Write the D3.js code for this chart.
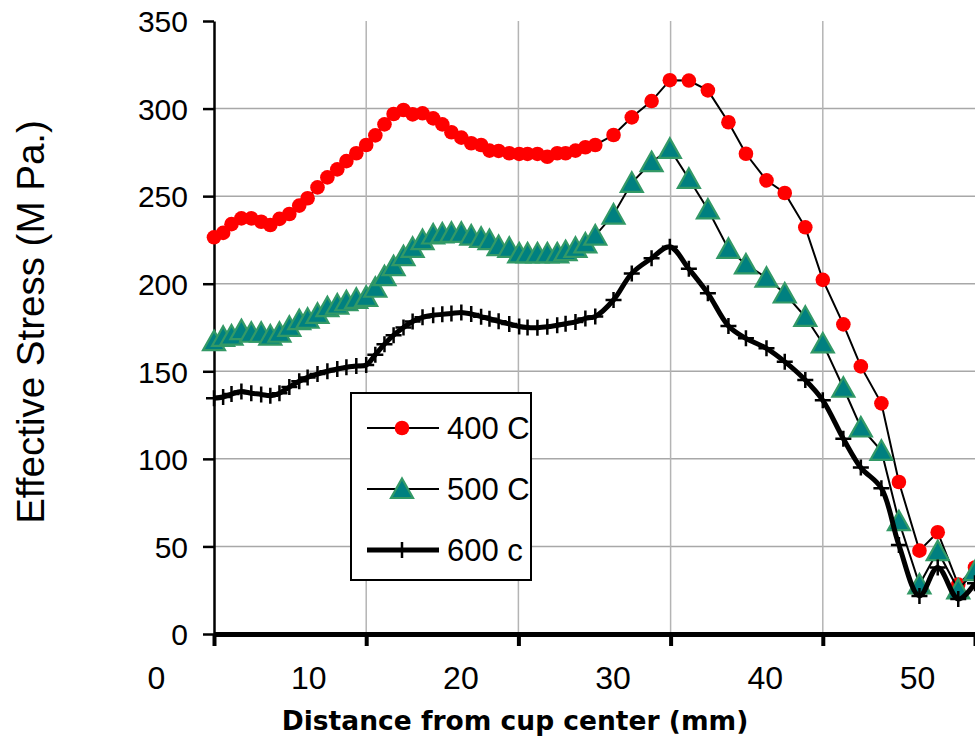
<!DOCTYPE html>
<html><head><meta charset="utf-8">
<script src="https://cdn.jsdelivr.net/npm/d3@7"></script>
<style>body{margin:0;background:#fff} svg{display:block}</style>
</head><body><svg id="c" width="975" height="742"></svg>
<script>
// ---- data ----
const distance = [0, 0.6, 1.15, 1.8, 2.45, 3.1, 3.7, 4.3, 4.95, 5.6, 6.15, 6.8, 7.45, 8.1, 8.7, 9.35, 10.0, 10.6, 11.2, 11.8, 12.45, 13.05, 13.7, 14.4, 15.0, 15.6, 16.25, 16.9, 17.55, 18.1, 18.7, 19.4, 20.05, 20.6, 21.25, 21.9, 22.55, 23.1, 23.75, 24.4, 25.05,
  26.25, 27.45, 28.75, 29.95, 31.2, 32.45, 33.8, 34.95, 36.3, 37.5, 38.85, 40.0, 41.35, 42.5, 43.85, 45.0, 46.35, 47.55, 48.9, 50.0];
const stress400 = [226.5, 229, 234, 237.3, 237.3, 235.4, 233.5, 237, 239.8, 244.6, 248.8, 255, 260.7, 265.3, 270, 274.5, 279.2, 284.7, 291, 296.9, 299.2, 296.7, 297.3, 294.4, 291, 286.5, 283.4, 280.2, 279.2, 276, 275.8, 274.5, 274.1, 274.1, 274.1, 272.5, 274.5, 274.5, 276, 277.9, 279.2,
  284.9, 295, 304.3, 316.2, 316, 310.4, 292.2, 274.2, 259, 251.8, 232.2, 202.2, 176.8, 152.8, 131.7, 86.8, 47.6, 58.1, 28.2, 38];
const stress500 = [167.2, 169.7, 170.4, 173.5, 172, 172, 170.4, 172, 175.4, 179.2, 180, 182.8, 186.6, 188.1, 190, 191.4, 192.5, 197.7, 204.3, 210, 215.7, 220.5, 224.9, 228.1, 228.7, 229.1, 229.1, 227.5, 226.2, 224.9, 221.5, 220.5, 217.3, 217.3, 217.3, 217.3, 217.3, 218.6, 220.5, 223, 227.5,
  239.5, 257.6, 269.4, 277, 259.9, 242.4, 219.9, 211, 203.4, 194.4, 181.1, 165.9, 140.6, 117.9, 104.6, 64.4, 28.3, 47.3, 25.4, 35.9];
const stress600 = [134.6, 135.3, 137, 138.4, 137.5, 136.8, 136, 137.5, 141, 144.3, 146.5, 148.4, 150, 151.3, 152.3, 153, 153.6, 159.5, 165.5, 170.6, 175, 178.4, 180.8, 182, 182.5, 183, 183.6, 182.7, 181.2, 180, 178.5, 177, 175.6, 175, 174.9, 175.4, 176.3, 177.1, 178.2, 180.2, 181.3,
  190.7, 205.9, 214.5, 221.1, 208.5, 194.5, 175.9, 168.8, 163.1, 155.5, 145, 133.4, 111.5, 95, 83.2, 50.8, 21.7, 38, 20, 29];
const seriesNames = ["400 C", "500 C", "600 c"];
const xTicks = [0, 10, 20, 30, 40, 50];
const yTicks = [0, 50, 100, 150, 200, 250, 300, 350];
const xTitle = "Distance from cup center (mm)";
const yTitle = "Effective Stress (M Pa.)";

// ---- chart ----
const svg = d3.select('#c');
const x = d3.scaleLinear().domain([0, 50]).range([214, 975]);
const y = d3.scaleLinear().domain([0, 350]).range([634, 21]);

// gridlines
svg.append('g').selectAll('line').data(yTicks.filter(d => d > 0 && d < 350)).join('line')
  .attr('x1', x(0)).attr('x2', x(50)).attr('y1', d => y(d)).attr('y2', d => y(d))
  .attr('stroke', '#a8a8a8').attr('stroke-width', 1.5);
svg.append('g').selectAll('line').data(xTicks.filter(d => d > 0 && d < 50)).join('line')
  .attr('y1', y(0)).attr('y2', y(350)).attr('x1', d => x(d)).attr('x2', d => x(d))
  .attr('stroke', '#b4b4b4').attr('stroke-width', 1.5);

// y axis
const yAxis = svg.append('g').attr('transform', `translate(${x(0)},0)`)
  .call(d3.axisLeft(y).tickValues(yTicks).tickSize(11).tickPadding(15).tickSizeOuter(0));
yAxis.select('.domain').attr('stroke', '#000').attr('stroke-width', 2.5);
yAxis.selectAll('.tick line').attr('stroke', '#000').attr('stroke-width', 2.5);
yAxis.selectAll('.tick text').attr('font-family', 'Liberation Sans, Arial, sans-serif')
  .attr('font-size', 30).attr('fill', '#000').attr('dy', '0.36em');

// x axis
const xAxis = svg.append('g').attr('transform', `translate(0,${y(0)})`)
  .call(d3.axisBottom(x).tickValues(xTicks).tickSize(12).tickPadding(20).tickSizeOuter(0));
xAxis.select('.domain').attr('stroke', '#000').attr('stroke-width', 5);
xAxis.selectAll('.tick line').attr('stroke', '#000').attr('stroke-width', 4);
xAxis.selectAll('.tick text').attr('font-family', 'Liberation Sans, Arial, sans-serif')
  .attr('font-size', 32).attr('fill', '#000').attr('dx', -58);

// lines
const pts = vals => distance.map((d, i) => [d, vals[i]]);
const lineStraight = d3.line().x(d => x(d[0])).y(d => y(d[1]));
const lineSmooth = d3.line().x(d => x(d[0])).y(d => y(d[1])).curve(d3.curveCatmullRom.alpha(0.5));

const triPath = 'M0,-10.5 L11,9 L-11,9 Z';

// series 400
svg.append('path').attr('d', lineStraight(pts(stress400))).attr('fill', 'none').attr('stroke', '#000').attr('stroke-width', 2);
svg.append('g').selectAll('circle').data(pts(stress400)).join('circle')
  .attr('cx', d => x(d[0])).attr('cy', d => y(d[1])).attr('r', 7.3).attr('fill', '#ff0000');
// series 500
svg.append('path').attr('d', lineStraight(pts(stress500))).attr('fill', 'none').attr('stroke', '#000').attr('stroke-width', 2);
svg.append('g').selectAll('path').data(pts(stress500)).join('path')
  .attr('d', triPath).attr('transform', d => `translate(${x(d[0])},${y(d[1])})`)
  .attr('fill', '#008080').attr('stroke', '#339966').attr('stroke-width', 2.2);
// series 600
svg.append('path').attr('d', lineSmooth(pts(stress600))).attr('fill', 'none').attr('stroke', '#000').attr('stroke-width', 5);
svg.append('g').selectAll('path').data(pts(stress600)).join('path')
  .attr('d', 'M-8,0 H8 M0,-8 V8').attr('transform', d => `translate(${x(d[0])},${y(d[1])})`)
  .attr('fill', 'none').attr('stroke', '#000').attr('stroke-width', 2.5);

// titles
svg.append('text').attr('x', 515).attr('y', 730).attr('text-anchor', 'middle')
  .attr('font-family', 'DejaVu Sans, sans-serif').attr('font-weight', 'bold').attr('font-size', 26.5)
  .text(xTitle);
svg.append('text').attr('transform', 'translate(44,322) rotate(-90)').attr('text-anchor', 'middle')
  .attr('font-family', 'Liberation Sans, Arial, sans-serif').attr('font-size', 38.5)
  .text(yTitle);

// legend
const lg = svg.append('g').attr('transform', 'translate(351,393)');
lg.append('rect').attr('width', 180).attr('height', 187).attr('fill', '#fff').attr('stroke', '#000').attr('stroke-width', 2);
const rows = lg.selectAll('g.row').data(seriesNames).join('g').attr('class', 'row')
  .attr('transform', (d, i) => `translate(0,${35 + i * 61})`);
rows.append('line').attr('x1', 16).attr('x2', 88).attr('stroke', '#000').attr('stroke-width', (d, i) => i === 2 ? 5 : 2);
rows.filter((d, i) => i === 0).append('circle').attr('cx', 51).attr('r', 7.3).attr('fill', '#ff0000');
rows.filter((d, i) => i === 1).append('path').attr('d', triPath).attr('transform', 'translate(51,0)')
  .attr('fill', '#008080').attr('stroke', '#339966').attr('stroke-width', 2.2);
rows.filter((d, i) => i === 2).append('path').attr('d', 'M-8,0 H8 M0,-8 V8').attr('transform', 'translate(51,0)')
  .attr('stroke', '#000').attr('stroke-width', 2.5);
rows.append('text').attr('x', 96).attr('dy', '0.36em').attr('font-family', 'Liberation Sans, Arial, sans-serif')
  .attr('font-size', 31).text(d => d);
</script></body></html>
